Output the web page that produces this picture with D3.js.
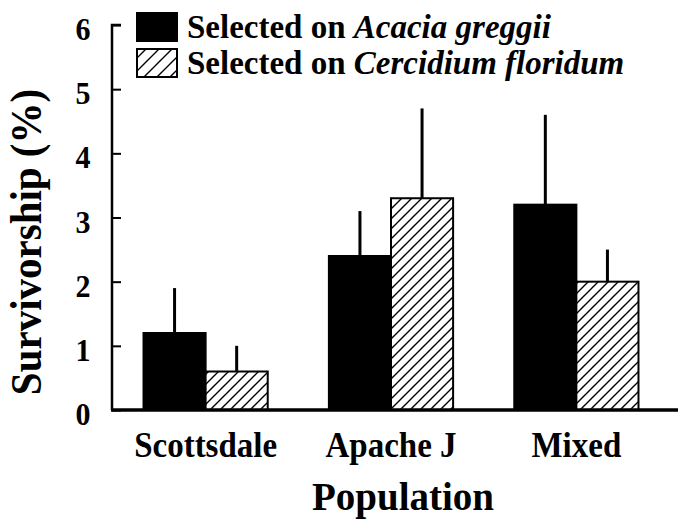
<!DOCTYPE html>
<html><head><meta charset="utf-8">
<script src="https://cdn.jsdelivr.net/npm/d3@7"></script>
<style>body{margin:0;background:#fff}svg{display:block}</style>
</head><body>
<svg id="chart" width="678" height="522"></svg>
<script>
const categories = ["Scottsdale", "Apache J", "Mixed"];
const seriesNames = ["Acacia greggii", "Cercidium floridum"];
const acaciaValues = [1.2, 2.4, 3.2];
const acaciaErrors = [0.7, 0.7, 1.4];
const cercidiumValues = [0.6, 3.3, 2.0];
const cercidiumErrors = [0.4, 1.4, 0.5];
const yTicks = [0, 1, 2, 3, 4, 5, 6];

const FONT = "Liberation Serif, Times New Roman, serif";
const svg = d3.select("#chart").attr("font-family", FONT).attr("font-weight", "bold");
const defs = svg.append("defs");
function hatch(id, gap) {
  const p = defs.append("pattern").attr("id", id).attr("patternUnits", "userSpaceOnUse")
    .attr("width", gap).attr("height", gap);
  p.append("rect").attr("width", gap).attr("height", gap).attr("fill", "#fff");
  p.append("path").attr("d", `M${-gap/2},${gap/2} L${gap/2},${-gap/2} M0,${gap} L${gap},0 M${gap/2},${gap*1.5} L${gap*1.5},${gap/2}`)
    .attr("stroke", "#000").attr("stroke-width", 1.4);
}
hatch("hatchBar", 10);
hatch("hatchLegend", 13);

const y = d3.scaleLinear().domain([0, 6]).range([410, 25]);
const x = d3.scaleBand().domain(categories).range([112, 670]).paddingInner(0.33).paddingOuter(0.17);
const xs = d3.scaleBand().domain([0, 1]).range([0, x.bandwidth()]);

const data = categories.map((c, i) => [
  {cat: c, s: 0, v: acaciaValues[i], e: acaciaErrors[i]},
  {cat: c, s: 1, v: cercidiumValues[i], e: cercidiumErrors[i]}
]).flat();

// error bars
svg.append("g").selectAll("line").data(data).join("line")
  .attr("x1", d => x(d.cat) + xs(d.s) + xs.bandwidth()/2)
  .attr("x2", d => x(d.cat) + xs(d.s) + xs.bandwidth()/2)
  .attr("y1", d => y(d.v)).attr("y2", d => y(d.v + d.e))
  .attr("stroke", "#000").attr("stroke-width", 3);

// bars
svg.append("g").selectAll("rect").data(data).join("rect")
  .attr("x", d => x(d.cat) + xs(d.s))
  .attr("width", xs.bandwidth())
  .attr("y", d => y(d.v)).attr("height", d => y(0) - y(d.v))
  .attr("fill", d => d.s === 0 ? "#000" : "url(#hatchBar)")
  .attr("stroke", "#000").attr("stroke-width", 2);

// y axis
const yAxis = svg.append("g").attr("transform", "translate(112,0)")
  .call(d3.axisRight(y).tickValues(yTicks).tickSize(9).tickFormat(""));
yAxis.select(".domain").attr("stroke-width", 2.5).attr("d", `M9,${y(6)}H0V${y(0)}`);
yAxis.selectAll(".tick line").attr("stroke-width", 2);
svg.append("g").selectAll("text").data(yTicks).join("text")
  .attr("transform", d => `translate(83,${y(d) + 15}) scale(1,1.08)`).attr("text-anchor", "middle")
  .attr("font-size", 30).text(d => d);

// x axis
svg.append("line").attr("x1", 111).attr("x2", 678).attr("y1", 410).attr("y2", 410)
  .attr("stroke", "#000").attr("stroke-width", 3.5);
svg.append("g").selectAll("text").data(categories).join("text")
  .attr("transform", d => `translate(${x(d) + x.bandwidth()/2},457) scale(1,1.1)`).attr("text-anchor", "middle")
  .attr("font-size", 33).text(d => d);

// axis titles
svg.append("text").attr("transform", "translate(403,510) scale(1,1.05)").attr("text-anchor", "middle")
  .attr("font-size", 39).text("Population");
svg.append("text").attr("transform", "translate(41,242) rotate(-90) scale(1,1.1)").attr("text-anchor", "middle")
  .attr("font-size", 41).text("Survivorship (%)");

// legend
const leg = svg.append("g");
seriesNames.forEach((name, i) => {
  const yy = 13 + i * 36;
  leg.append("rect").attr("x", 137).attr("y", yy).attr("width", 40).attr("height", 28)
    .attr("fill", i === 0 ? "#000" : "url(#hatchLegend)").attr("stroke", "#000").attr("stroke-width", 2);
  const t = leg.append("text").attr("x", 187).attr("y", yy + 25).attr("font-size", 33);
  t.append("tspan").text("Selected on ");
  t.append("tspan").attr("font-style", "italic").text(name);
});
</script>
</body></html>
